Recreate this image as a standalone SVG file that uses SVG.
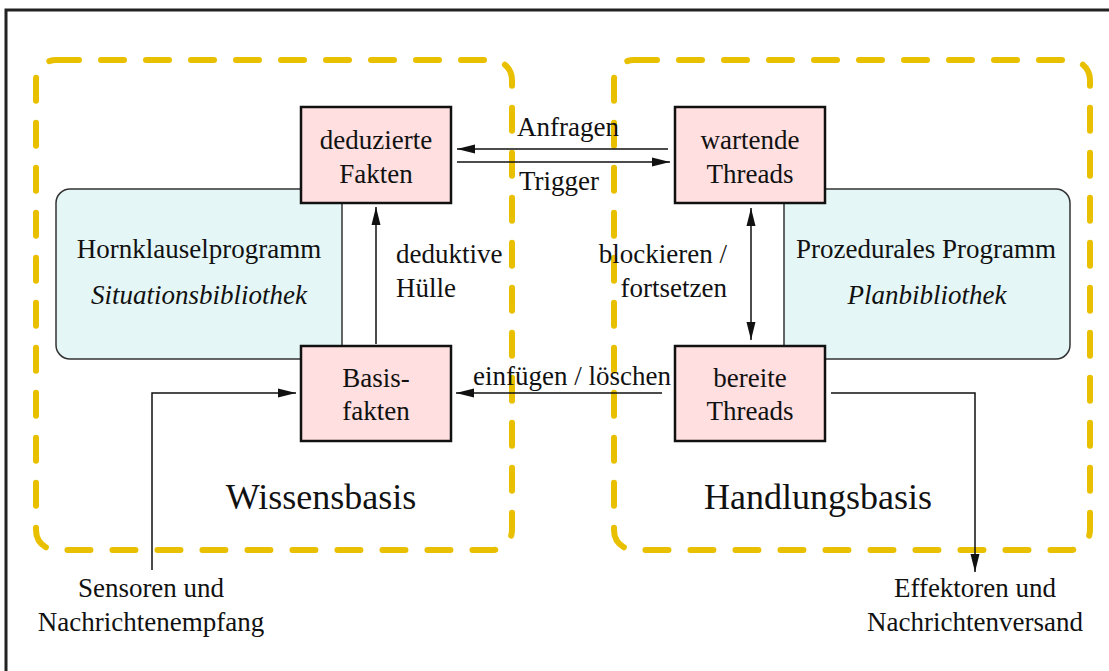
<svg xmlns="http://www.w3.org/2000/svg" width="1109" height="671" viewBox="0 0 1109 671">
  <style>
    text { font-family: "Liberation Serif", "Times New Roman", serif; fill: #111; }
    .lbl { font-size: 27px; }
    .mid { text-anchor: middle; }
    .it { font-style: italic; }
    .big { font-size: 36px; text-anchor: middle; }
    .area { fill: none; stroke: #E9C000; stroke-width: 6; stroke-dasharray: 23 22; stroke-linecap: round; }
    .prog { fill: #E4F6F6; stroke: #333; stroke-width: 1.5; }
    .node { fill: #FFDFDF; stroke: #111; stroke-width: 2.5; }
    .conn { fill: none; stroke: #111; stroke-width: 1.5; }
  </style>
  <defs>
    <marker id="arr" viewBox="0 0 18 10" refX="18" refY="5" markerWidth="18" markerHeight="10" markerUnits="userSpaceOnUse" orient="auto-start-reverse">
      <path d="M0,0.5 L18,5 L0,9.5 Z" fill="#111"/>
    </marker>
  </defs>

  <rect width="1109" height="671" fill="#fff"/>
  <!-- page frame -->
  <rect x="6" y="10" width="1200" height="800" fill="none" stroke="#222" stroke-width="3"/>

  <!-- dashed areas -->
  <g id="wissensbasis">
    <rect class="area" x="36" y="60" width="476" height="490" rx="20"/>
    <text class="big" x="321" y="509">Wissensbasis</text>
  </g>
  <g id="handlungsbasis">
    <rect class="area" x="614" y="60" width="476" height="490" rx="20"/>
    <text class="big" x="818" y="509">Handlungsbasis</text>
  </g>

  <!-- program panels -->
  <g id="hornklauselprogramm">
    <rect class="prog" x="56" y="189" width="286" height="170" rx="14"/>
    <text class="lbl mid" x="199" y="258">Hornklauselprogramm</text>
    <text class="lbl mid it" x="199" y="304">Situationsbibliothek</text>
  </g>
  <g id="prozedurales-programm">
    <rect class="prog" x="784" y="189" width="286" height="170" rx="14"/>
    <text class="lbl mid" x="926" y="258">Prozedurales Programm</text>
    <text class="lbl mid it" x="927" y="304">Planbibliothek</text>
  </g>

  <!-- connectors -->
  <g id="connectors">
    <line class="conn" x1="668" y1="149" x2="457" y2="149" marker-end="url(#arr)"/>
    <line class="conn" x1="457" y1="162" x2="670" y2="162" marker-end="url(#arr)"/>
    <line class="conn" x1="376" y1="344" x2="376" y2="207" marker-end="url(#arr)"/>
    <line class="conn" x1="751" y1="208" x2="751" y2="340" marker-start="url(#arr)" marker-end="url(#arr)"/>
    <line class="conn" x1="662" y1="393" x2="456" y2="393" marker-end="url(#arr)"/>
    <polyline class="conn" points="152,570 152,393 296,393" marker-end="url(#arr)"/>
    <polyline class="conn" points="831,393 975,393 975,572" marker-end="url(#arr)"/>
    <text class="lbl" x="517" y="136">Anfragen</text>
    <text class="lbl" x="519" y="190">Trigger</text>
    <text class="lbl" x="396" y="263">deduktive</text>
    <text class="lbl" x="396" y="297">Hülle</text>
    <text class="lbl" x="727" y="263" text-anchor="end">blockieren /</text>
    <text class="lbl" x="727" y="297" text-anchor="end">fortsetzen</text>
    <text class="lbl" x="473" y="385">einfügen / löschen</text>
    <text class="lbl mid" x="151" y="597">Sensoren und</text>
    <text class="lbl mid" x="151" y="631">Nachrichtenempfang</text>
    <text class="lbl mid" x="975" y="597">Effektoren und</text>
    <text class="lbl mid" x="975" y="631">Nachrichtenversand</text>
  </g>

  <!-- fact and thread nodes -->
  <g id="deduzierte-fakten">
    <rect class="node" x="301" y="107" width="150" height="96"/>
    <text class="lbl mid" x="376" y="149">deduzierte</text>
    <text class="lbl mid" x="376" y="183">Fakten</text>
  </g>
  <g id="wartende-threads">
    <rect class="node" x="675" y="107" width="150" height="96"/>
    <text class="lbl mid" x="750" y="149">wartende</text>
    <text class="lbl mid" x="750" y="183">Threads</text>
  </g>
  <g id="basisfakten">
    <rect class="node" x="301" y="346" width="150" height="95"/>
    <text class="lbl mid" x="376" y="387">Basis-</text>
    <text class="lbl mid" x="376" y="420">fakten</text>
  </g>
  <g id="bereite-threads">
    <rect class="node" x="675" y="346" width="150" height="95"/>
    <text class="lbl mid" x="750" y="387">bereite</text>
    <text class="lbl mid" x="750" y="420">Threads</text>
  </g>
</svg>
